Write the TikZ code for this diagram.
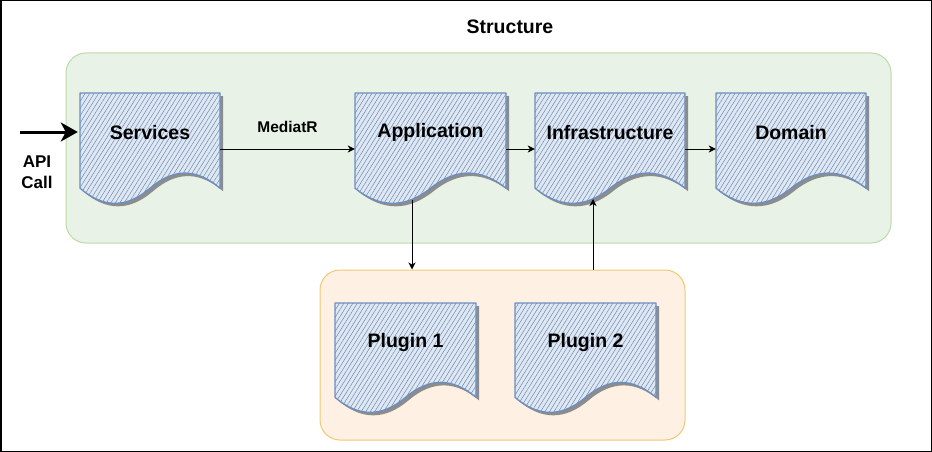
\documentclass[tikz,border=0pt]{standalone}
\usepackage{fontspec}
\setmainfont{Liberation Sans}
\usetikzlibrary{arrows.meta,patterns.meta,calc}
\definecolor{docblue}{HTML}{DAE8FC}
\definecolor{docedge}{HTML}{6C8EBF}
\definecolor{greenfill}{HTML}{E9F2E7}
\definecolor{greenedge}{HTML}{BCD9A8}
\definecolor{orangefill}{HTML}{FEF0E2}
\definecolor{orangeedge}{HTML}{F0C874}
\tikzset{
  docshadow/.style={fill=black!45, draw=none},
  docfill/.style={fill=docblue, postaction={pattern={Lines[angle=58,distance=3.8pt,line width=0.5pt]}, pattern color=black!48}},
  docline/.style={draw=docedge, line width=1.3pt, line join=round},
  dochold/.style={rectangle, inner sep=0pt, draw=none},
  doctext/.style={font=\fontsize{19.5}{23}\selectfont\bfseries, inner sep=0pt},
  greenbox/.style={rectangle, rounded corners=20pt, fill=greenfill, draw=greenedge, line width=1pt},
  orangebox/.style={rectangle, rounded corners=20pt, fill=orangefill, draw=orangeedge, line width=1pt},
  arr/.style={draw=black, line width=1pt, -{Stealth[length=7pt,width=7pt,inset=2pt]}},
  bigarr/.style={draw=black, line width=3pt, -{Stealth[length=17pt,width=19pt,inset=5pt]}},
}
\newcommand{\docp}{(0,0) -- (\dw,0) -- (\dw,{0.85*\dh}) .. controls ({5*\dw/6},{0.67*\dh}) and ({2*\dw/3},{0.67*\dh}) .. ({\dw/2},{0.85*\dh}) .. controls ({\dw/3},{1.03*\dh}) and ({\dw/6},{1.03*\dh}) .. (0,{0.85*\dh}) -- cycle}
\newcommand{\docshape}[6]{%
  \begin{scope}[shift={(#2,#3)}]
    \def\dw{#4}\def\dh{#5}
    \path[docshadow, shift={(3,3)}] \docp;
    \path[docfill] \docp;
    \path[docline] \docp;
  \end{scope}
  \node[dochold, minimum width=#4pt, minimum height=#5pt] (#1) at ({#2+#4/2},{#3+#5/2}) {};
  \node[doctext] (#1-t) at ({#2+#4/2},{#3+0.35*#5+0.5}) {#6};
}
\begin{document}
\begin{tikzpicture}[x=1pt,y=-1pt]
\useasboundingbox (0,0) rectangle (932,452);
\draw[line width=1.5pt] (0.75,0.75) rectangle (931.25,451.25);
\node[font=\fontsize{19.5}{23}\selectfont\bfseries] (title) at (510,26.5) {Structure};
\node[greenbox, minimum width=825pt, minimum height=190pt] (core) at (478.5,148) {};
\node[orangebox, minimum width=365pt, minimum height=170pt] (plug) at (502.5,355) {};
\docshape{svc}{80}{93}{140}{112}{Services}
\docshape{app}{355}{93}{151}{112}{Application}
\docshape{inf}{535}{93}{150}{112}{Infrastructure}
\docshape{dom}{716}{93}{150}{112}{Domain}
\docshape{pl1}{335}{303}{141}{111}{Plugin 1}
\docshape{pl2}{515}{303}{141}{111}{Plugin 2}
\coordinate (apistart) at (20,132);
\draw[bigarr, shorten >=2pt] (apistart) -- (apistart -| svc.west);
\node[font=\fontsize{17}{21}\selectfont\bfseries, align=center] (api) at (37,172) {API\\Call};
\draw[arr] (svc.east) -- node[midway, yshift=22pt, font=\fontsize{15.5}{18}\selectfont\bfseries] (med) {MediatR} (app.west);
\draw[arr] (app.east) -- (inf.west);
\draw[arr] (inf.east) -- (dom.west);
\coordinate (appout) at (412,200);
\coordinate (infin) at (593,199);
\draw[arr] (appout) -- (appout |- plug.north);
\draw[arr] (infin |- plug.north) -- (infin);
\end{tikzpicture}
\end{document}
